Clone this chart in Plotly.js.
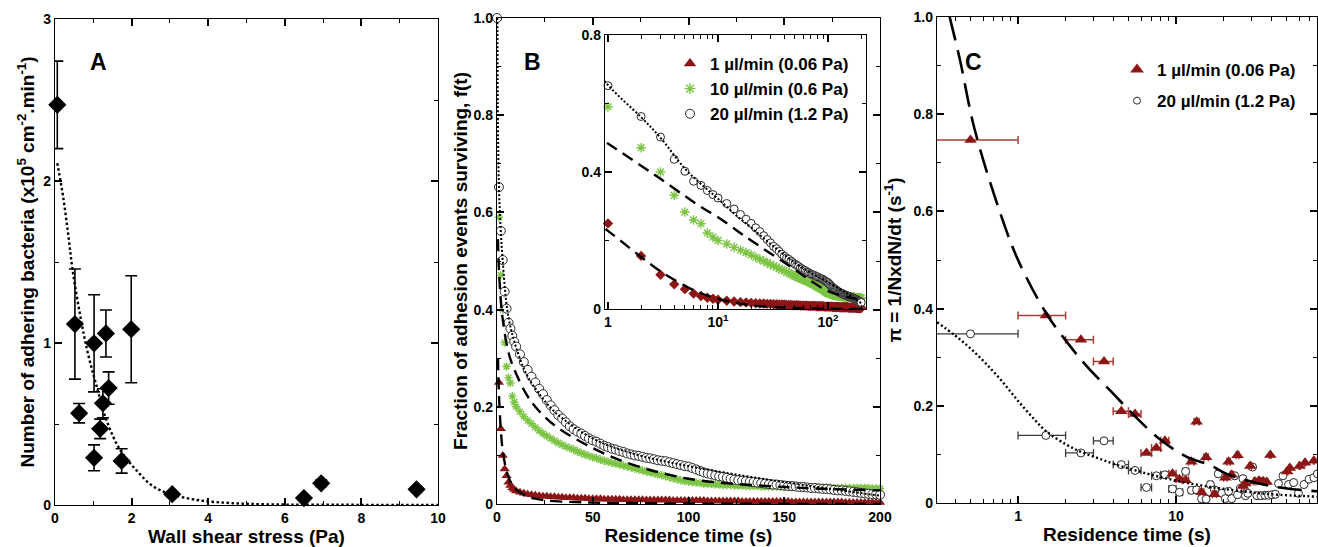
<!DOCTYPE html>
<html><head><meta charset="utf-8">
<script src="https://cdn.plot.ly/plotly-3.0.1.min.js"></script>
<style>html,body{margin:0;padding:0;background:#fff;}#chart{width:1318px;height:547px;}</style>
</head><body><div id="chart"></div>
<script>
// ---------- Panel A: adhering bacteria vs wall shear stress ----------
const stressA = [0.06,0.52,0.63,1.02,1.02,1.18,1.25,1.33,1.40,1.74,1.99,3.06,6.50,6.95,9.44];
const adhereA = [2.47,1.117,0.567,0.998,0.291,0.47,0.628,1.059,0.722,0.272,1.085,0.067,0.043,0.134,0.097];
const adhereErrA = [0.27,0.34,0.06,0.30,0.08,0.06,0.09,0.145,0.10,0.075,0.33,0.012,0.01,0.02,0.015];
const fitStressA = [0.06,0.22,0.35,0.46,0.65,0.85,1.09,1.35,1.70,2.14,2.57,3.06,3.79,4.66,5.54,6.5,8,10];
const fitAdhereA = [2.11,1.89,1.66,1.45,1.18,0.945,0.73,0.52,0.34,0.211,0.114,0.065,0.028,0.011,0.004,0.002,0.001,0.0];

// ---------- Panel B: fraction of adhesion events surviving ----------
const timeB = [0,1,2,3,4,5,6,7,8,9,10,12,14,16,18,20,22,24,26,28,30,32,34,36,38,40,42,44,46,48,50,52,54,56,58,60,62,64,66,68,70,72,74,76,78,80,82,84,86,88,90,92,94,96,98,100,102,104,106,108,110,112,114,116,118,120,122,124,126,128,130,132,134,136,138,140,142,144,146,148,150,152,154,156,158,160,162,164,166,168,170,172,174,176,178,180,182,184,186,188,190,192,194,196,198,200];
const surv1 = [1.0,0.250,0.155,0.100,0.072,0.058,0.045,0.038,0.033,0.030,0.027,
 0.024,0.022,0.020,0.019,0.018,0.017,0.016,0.016,0.015,0.015,
 0.014,0.014,0.013,0.013,0.013,0.012,0.012,0.012,0.011,0.011,
 0.011,0.011,0.010,0.010,0.010,0.010,0.010,0.009,0.009,0.009,
 0.009,0.009,0.009,0.008,0.008,0.008,0.008,0.008,0.008,0.008,
 0.007,0.007,0.007,0.007,0.007,0.007,0.007,0.007,0.007,0.006,
 0.006,0.006,0.006,0.006,0.006,0.006,0.006,0.006,0.005,0.005,
 0.005,0.005,0.005,0.005,0.005,0.005,0.005,0.005,0.005,0.005,
 0.005,0.004,0.004,0.004,0.004,0.004,0.004,0.004,0.004,0.004,
 0.004,0.004,0.004,0.004,0.004,0.003,0.003,0.003,0.003,0.003,
 0.003,0.003,0.003,0.003,0.003];
const surv10 = [1.0,0.590,0.471,0.400,0.332,0.283,0.260,0.249,0.222,0.210,0.200,
 0.190,0.180,0.172,0.165,0.158,0.151,0.145,0.140,0.135,0.130,
 0.126,0.122,0.118,0.115,0.112,0.108,0.105,0.102,0.099,0.096,
 0.094,0.091,0.089,0.087,0.085,0.083,0.081,0.079,0.077,0.075,
 0.073,0.071,0.069,0.067,0.065,0.063,0.061,0.059,0.057,0.055,
 0.053,0.051,0.049,0.047,0.046,0.045,0.044,0.043,0.042,0.041,
 0.041,0.040,0.040,0.039,0.039,0.039,0.038,0.038,0.038,0.037,
 0.037,0.037,0.037,0.036,0.036,0.036,0.036,0.036,0.035,0.035,
 0.035,0.035,0.035,0.035,0.034,0.034,0.034,0.034,0.034,0.034,
 0.034,0.034,0.033,0.033,0.033,0.033,0.033,0.033,0.033,0.033,
 0.033,0.033,0.032,0.032,0.032];
const surv20 = [1.0,0.652,0.562,0.502,0.437,0.402,0.373,0.361,0.346,0.334,0.324,
 0.308,0.292,0.276,0.262,0.250,0.237,0.226,0.214,0.203,0.193,
 0.183,0.176,0.168,0.160,0.154,0.149,0.145,0.140,0.135,0.131,
 0.128,0.124,0.120,0.117,0.114,0.112,0.109,0.107,0.104,0.102,
 0.100,0.099,0.097,0.095,0.094,0.092,0.090,0.089,0.088,0.086,
 0.084,0.082,0.080,0.078,0.077,0.074,0.071,0.068,0.065,0.063,
 0.061,0.059,0.057,0.056,0.054,0.052,0.050,0.049,0.048,0.047,
 0.046,0.045,0.044,0.043,0.042,0.041,0.040,0.040,0.039,0.038,
 0.037,0.037,0.036,0.035,0.035,0.034,0.033,0.033,0.032,0.031,
 0.031,0.030,0.029,0.028,0.028,0.027,0.026,0.025,0.024,0.023,
 0.022,0.021,0.020,0.020,0.019];
const fitTime1 = [0.5,1,2,3,5,7,10,15,20,30,50,100,200];
const fitSurv1 = [0.30,0.228,0.152,0.11,0.068,0.046,0.03,0.017,0.011,0.006,0.003,0.001,0.0];
const fitTime10 = [0.5,1,2,3,5,7,10,15,20,30,50,70,100,150,200];
const fitSurv10 = [0.545,0.483,0.418,0.38,0.33,0.298,0.268,0.228,0.2,0.162,0.115,0.082,0.052,0.035,0.028];
const fitTime20 = [0.2,0.5,1,2,3,5,7,10,15,20,30,50,70,100,150,200];
const fitSurv20 = [1.0,0.78,0.654,0.56,0.5,0.41,0.365,0.322,0.27,0.238,0.19,0.135,0.105,0.078,0.045,0.017];

const inset1x = ['1','10<sup>1</sup>','10<sup>2</sup>'];
const legendNames = ['1 µl/min (0.06 Pa)','10 µl/min (0.6 Pa)','20 µl/min (1.2 Pa)'];

// ---------- Panel C: pi = 1/N dN/dt vs residence time ----------
const timeC1 = [0.5,1.5,2.5,3.5,4.5,5.5,6.5,7.5,8.5,9.5,10.5,11.5,12.5,13.5,14.5,15.5,17.5,20.5,21.5,22.5,24.5,26.5,27.5,29.5,31.5,33.5,35.5,37.5,39.5,50.5,52.5,60.5,65.5,74.5];
const rateC1 = [0.747,0.386,0.336,0.291,0.189,0.183,0.103,0.113,0.128,0.060,0.049,0.047,0.085,0.167,0.022,0.094,0.018,0.052,0.085,0.058,0.098,0.035,0.040,0.076,0.044,0.046,0.045,0.043,0.099,0.065,0.072,0.076,0.083,0.087];
const errLoC1 = [0.49,0.5,0.5,0.5,0.5,0.5,0.5,0.5,0.5,0.5,0.5,0.5,0.5,0.5,0.5,0.5,0.5,0.5,0.5,0.5,0.5,0.5,0.5,0.5,0.5,0.5,0.5,0.5,0.5,0.5,0.5,0.5,0.5,0.5];
const errHiC1 = [0.5,0.5,0.5,0.5,0.5,0.5,0.5,0.5,0.5,0.5,0.5,0.5,0.5,0.5,0.5,0.5,0.5,0.5,0.5,0.5,0.5,0.5,0.5,0.5,0.5,0.5,0.5,0.5,0.5,0.5,0.5,0.5,0.5,0.5];
const timeC20 = [0.5,1.5,2.5,3.5,4.5,5.5,6.5,7.5,8.5,9.5,10.5,11.5,12.5,13.5,14.5,15.5,16.5,17.5,18.5,19.5,20.5,21.5,22.5,23.5,24.5,25.5,26.5,27.5,28.5,30.5,32.5,34.5,36.5,38.5,40.5,42.5,44.5,47.5,51.5,55.5,59.5,64.5,69.5,74.5,78.5];
const rateC20 = [0.348,0.139,0.103,0.128,0.079,0.067,0.032,0.056,0.058,0.029,0.022,0.065,0.026,0.027,0.009,0.008,0.038,0.027,0.060,0.020,0.009,0.024,0.009,0.056,0.017,0.030,0.050,0.015,0.020,0.074,0.015,0.015,0.016,0.016,0.017,0.018,0.040,0.056,0.038,0.042,0.020,0.038,0.049,0.052,0.060];
const errLoC20 = [0.49,0.5,0.5,0.5,0.5,0.5,0.5,0.5,0.5,0.5,0.5,0.5,0.5,0.5,0.5,0.5,0.5,0.5,0.5,0.5,0.5,0.5,0.5,0.5,0.5,0.5,0.5,0.5,0.5,0.5,0.5,0.5,0.5,0.5,0.5,0.5,0.5,0.5,0.5,0.5,0.5,0.5,0.5,0.5,0.5];
const errHiC20 = [0.5,0.5,0.5,0.5,0.5,0.5,0.5,0.5,0.5,0.5,0.5,0.5,0.5,0.5,0.5,0.5,0.5,0.5,0.5,0.5,0.5,0.5,0.5,0.5,0.5,0.5,0.5,0.5,0.5,0.5,0.5,0.5,0.5,0.5,0.5,0.5,0.5,0.5,0.5,0.5,0.5,0.5,0.5,0.5,0.5];
const fitTimeC1 = [0.369,0.43,0.53,0.765,1.0,1.51,2.03,2.71,4.0,5.36,7.9,11.7,16.4,20.9,29.4,41.4,61,79];
const fitRateC1 = [1.0,0.91,0.77,0.60,0.50,0.39,0.332,0.282,0.225,0.182,0.131,0.095,0.078,0.06,0.045,0.034,0.027,0.024];
const fitTimeC20 = [0.307,0.398,0.5,0.63,0.794,1.0,1.26,1.5,2.0,2.5,3.16,4.0,6.3,10,15.8,25,40,79];
const fitRateC20 = [0.372,0.345,0.318,0.286,0.250,0.210,0.173,0.148,0.121,0.105,0.093,0.081,0.062,0.046,0.034,0.025,0.018,0.013];
const legendNamesC = ['1 µl/min (0.06 Pa)','20 µl/min (1.2 Pa)'];

// ---------- styling ----------
const W = 1318, H = 547;
const FONT = 'Liberation Sans, Arial, Helvetica, sans-serif';
const RED = '#8c1616', GREEN = '#7cc444', CIRC = '#2a2a2a';
const dX = (a,b) => [a/W, b/W];
const dY = (top,bottom) => [1-bottom/H, 1-top/H];

function axis(extra){
  return Object.assign({
    showgrid:false, zeroline:false, showline:true, linecolor:'#000', linewidth:1.3,
    mirror:'allticks', ticks:'inside', ticklen:7, tickwidth:1.5, tickcolor:'#000',
    tickfont:{family:FONT, size:14, color:'#000', weight:700},
    automargin:false, fixedrange:true
  }, extra);
}
function ttl(text, standoff){
  return {text:text, font:{family:FONT, size:19, color:'#000', weight:700}, standoff:standoff};
}
const minorT = (extra) => Object.assign({ticks:'inside', ticklen:4, tickwidth:1.2, tickcolor:'#000', showgrid:false}, extra);

const traces = [];
// Panel A
traces.push({x:stressA, y:adhereA, xaxis:'x', yaxis:'y', type:'scatter', mode:'markers', showlegend:false,
  marker:{symbol:'diamond', size:14, color:'#000'},
  error_y:{type:'data', array:adhereErrA, visible:true, color:'#000', thickness:1.6, width:6}, cliponaxis:false, hoverinfo:'x+y'});
traces.push({x:fitStressA, y:fitAdhereA, xaxis:'x', yaxis:'y', type:'scatter', mode:'lines', showlegend:false,
  line:{color:'#000', width:2.4, dash:'2.5px,2.5px', shape:'spline'}, hoverinfo:'skip'});

// Panel B main
traces.push({x:timeB, y:surv1, xaxis:'x2', yaxis:'y2', type:'scatter', mode:'markers', showlegend:false, cliponaxis:false,
  marker:{symbol:'triangle-up', size:9, color:RED}});
traces.push({x:timeB, y:surv10, xaxis:'x2', yaxis:'y2', type:'scatter', mode:'markers', showlegend:false, cliponaxis:false,
  marker:{symbol:'asterisk-open', size:7, color:GREEN, line:{color:GREEN, width:1.4}}});
traces.push({x:timeB, y:surv20, xaxis:'x2', yaxis:'y2', type:'scatter', mode:'markers', showlegend:false, cliponaxis:false,
  marker:{symbol:'circle', size:9, color:'#fff', line:{color:CIRC, width:1}}});
traces.push({x:fitTime1, y:fitSurv1, xaxis:'x2', yaxis:'y2', type:'scatter', mode:'lines', showlegend:false,
  line:{color:'#000', width:2.4, dash:'12px,7px', shape:'spline'}, hoverinfo:'skip'});
traces.push({x:fitTime10, y:fitSurv10, xaxis:'x2', yaxis:'y2', type:'scatter', mode:'lines', showlegend:false,
  line:{color:'#000', width:2.4, dash:'12px,7px', shape:'spline'}, hoverinfo:'skip'});
traces.push({x:fitTime20, y:fitSurv20, xaxis:'x2', yaxis:'y2', type:'scatter', mode:'lines', showlegend:false,
  line:{color:'#000', width:2, dash:'2px,2px', shape:'spline'}, hoverinfo:'skip'});

// Panel B inset (log time)
const tIn = timeB.slice(1);
traces.push({x:tIn, y:surv1.slice(1), xaxis:'x3', yaxis:'y3', type:'scatter', mode:'markers', showlegend:false, cliponaxis:false,
  marker:{symbol:'diamond', size:8, color:RED}});
traces.push({x:tIn, y:surv10.slice(1), xaxis:'x3', yaxis:'y3', type:'scatter', mode:'markers', showlegend:false, cliponaxis:false,
  marker:{symbol:'asterisk-open', size:8, color:GREEN, line:{color:GREEN, width:1.4}}});
traces.push({x:tIn, y:surv20.slice(1), xaxis:'x3', yaxis:'y3', type:'scatter', mode:'markers', showlegend:false, cliponaxis:false,
  marker:{symbol:'circle', size:8, color:'#fff', line:{color:CIRC, width:1}}});
traces.push({x:fitTime1, y:fitSurv1, xaxis:'x3', yaxis:'y3', type:'scatter', mode:'lines', showlegend:false,
  line:{color:'#000', width:2.4, dash:'12px,7px', shape:'spline'}, hoverinfo:'skip'});
traces.push({x:fitTime10, y:fitSurv10, xaxis:'x3', yaxis:'y3', type:'scatter', mode:'lines', showlegend:false,
  line:{color:'#000', width:2.4, dash:'12px,7px', shape:'spline'}, hoverinfo:'skip'});
traces.push({x:fitTime20, y:fitSurv20, xaxis:'x3', yaxis:'y3', type:'scatter', mode:'lines', showlegend:false,
  line:{color:'#000', width:2, dash:'2px,2px', shape:'spline'}, hoverinfo:'skip'});
// inset legend entries
traces.push({x:[null], y:[null], xaxis:'x3', yaxis:'y3', type:'scatter', mode:'markers', name:legendNames[0], legend:'legend',
  marker:{symbol:'triangle-up', size:11, color:RED}});
traces.push({x:[null], y:[null], xaxis:'x3', yaxis:'y3', type:'scatter', mode:'markers', name:legendNames[1], legend:'legend',
  marker:{symbol:'asterisk-open', size:9, color:GREEN, line:{color:GREEN, width:1.4}}});
traces.push({x:[null], y:[null], xaxis:'x3', yaxis:'y3', type:'scatter', mode:'markers', name:legendNames[2], legend:'legend',
  marker:{symbol:'circle', size:9, color:'#fff', line:{color:CIRC, width:1}}});

// Panel C
traces.push({x:timeC20, y:rateC20, xaxis:'x4', yaxis:'y4', type:'scatter', mode:'markers', showlegend:false,
  marker:{symbol:'circle', size:8, color:'#fff', line:{color:CIRC, width:1}},
  error_x:{type:'data', symmetric:false, array:errHiC20, arrayminus:errLoC20, color:'#3a3a3a', thickness:1.3, width:4}});
traces.push({x:timeC1, y:rateC1, xaxis:'x4', yaxis:'y4', type:'scatter', mode:'markers', showlegend:false,
  marker:{symbol:'triangle-up', size:11, color:RED},
  error_x:{type:'data', symmetric:false, array:errHiC1, arrayminus:errLoC1, color:'#a2403a', thickness:1.5, width:4}});
traces.push({x:fitTimeC1, y:fitRateC1, xaxis:'x4', yaxis:'y4', type:'scatter', mode:'lines', showlegend:false,
  line:{color:'#000', width:2.6, dash:'24px,10px', shape:'spline'}, hoverinfo:'skip'});
traces.push({x:fitTimeC20, y:fitRateC20, xaxis:'x4', yaxis:'y4', type:'scatter', mode:'lines', showlegend:false,
  line:{color:'#000', width:2.4, dash:'2px,2.5px', shape:'spline'}, hoverinfo:'skip'});
traces.push({x:[null], y:[null], xaxis:'x4', yaxis:'y4', type:'scatter', mode:'markers', name:legendNamesC[0], legend:'legend2', legendgroup:'c1',
  marker:{symbol:'triangle-up', size:12, color:RED}});
traces.push({x:[null], y:[null], xaxis:'x4', yaxis:'y4', type:'scatter', mode:'markers', name:legendNamesC[1], legend:'legend2', legendgroup:'c2',
  marker:{symbol:'circle', size:7, color:'#fff', line:{color:CIRC, width:1}}});

const legFont = {family:FONT, size:17, color:'#000', weight:700};
const layout = {
  width:W, height:H, margin:{l:0, r:0, t:0, b:0},
  paper_bgcolor:'#fff', plot_bgcolor:'rgba(0,0,0,0)',
  font:{family:FONT, color:'#000'},
  hovermode:'closest',
  xaxis: axis({domain:dX(55,438), range:[0,10], anchor:'y', tickvals:[0,2,4,6,8,10],
    minor:minorT({tickvals:[1,3,5,7,9]}), title:ttl('Wall shear stress (Pa)', 0)}),
  yaxis: axis({domain:dY(19,505), range:[0,3], anchor:'x', tickvals:[0,1,2,3],
    minor:minorT({tickvals:[0.5,1.5,2.5]}),
    title:ttl('Number of adhering bacteria (x10<sup>5</sup> cm<sup>-2</sup>.min<sup>-1</sup>)', 3)}),
  xaxis2: axis({domain:dX(497,880), range:[0,200], anchor:'y2', tickvals:[0,50,100,150,200],
    minor:minorT({tickvals:[25,75,125,175]}), title:ttl('Residence time (s)', 0)}),
  yaxis2: axis({domain:dY(18,504), range:[0,1], anchor:'x2', tickvals:[0,0.2,0.4,0.6,0.8,1.0],
    ticktext:['0','0.2','0.4','0.6','0.8','1.0'],
    minor:minorT({tickvals:[0.1,0.3,0.5,0.7,0.9]}),
    title:ttl('Fraction of adhesion events surviving, f(t)', 0)}),
  xaxis3: axis({domain:dX(605,866), type:'log', range:[-0.027,2.345], anchor:'y3', tickvals:[1,10,100], ticktext:inset1x,
    minor:minorT({tickvals:[2,3,4,5,6,7,8,9,20,30,40,50,60,70,80,90,200]})}),
  yaxis3: axis({domain:dY(35,309), range:[0,0.8], anchor:'x3', tickvals:[0,0.4,0.8], ticktext:['0','0.4','0.8'],
    minor:minorT({tickvals:[0.2,0.6]})}),
  xaxis4: axis({domain:dX(937,1317), type:'log', range:[-0.513,1.892], anchor:'y4', tickvals:[1,10], ticktext:['1','10'],
    minor:minorT({tickvals:[0.4,0.5,0.6,0.7,0.8,0.9,2,3,4,5,6,7,8,9,20,30,40,50,60,70]}),
    title:ttl('Residence time (s)', 0)}),
  yaxis4: axis({domain:dY(17,503), range:[0,1], anchor:'x4', tickvals:[0,0.2,0.4,0.6,0.8,1.0],
    ticktext:['0','0.2','0.4','0.6','0.8','1.0'],
    minor:minorT({tickvals:[0.1,0.3,0.5,0.7,0.9]}),
    title:ttl('π = 1/NxdN/dt (s<sup>-1</sup>)', 6)}),
  legend:{x:670/W, xanchor:'left', y:1-46/H, yanchor:'top', bgcolor:'rgba(0,0,0,0)', borderwidth:0,
    font:legFont, tracegroupgap:0},
  legend2:{x:1117/W, xanchor:'left', y:1-52/H, yanchor:'top', bgcolor:'rgba(0,0,0,0)', borderwidth:0,
    font:legFont, tracegroupgap:6, traceorder:'grouped'},
  annotations:[
    {text:'A', x:88/W, y:1-47/H, xref:'paper', yref:'paper', showarrow:false, font:{family:FONT, size:23, weight:700, color:'#000'}},
    {text:'B', x:532/W, y:1-47/H, xref:'paper', yref:'paper', showarrow:false, font:{family:FONT, size:23, weight:700, color:'#000'}},
    {text:'C', x:984/W, y:1-47/H, xref:'paper', yref:'paper', showarrow:false, font:{family:FONT, size:23, weight:700, color:'#000'}}
  ]
};
Plotly.newPlot('chart', traces, layout, {displayModeBar:false, staticPlot:false});
</script></body></html>
